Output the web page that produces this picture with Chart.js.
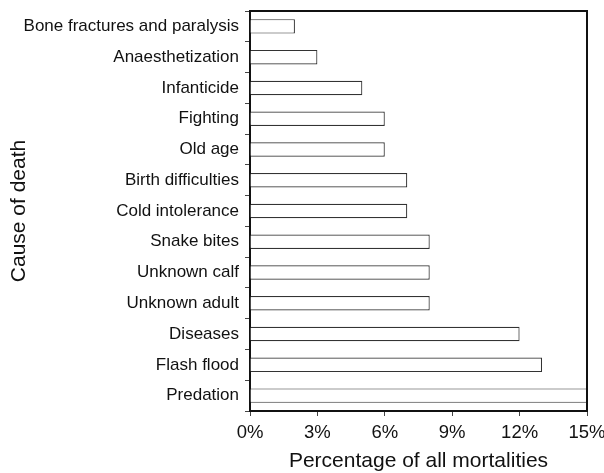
<!DOCTYPE html>
<html><head><meta charset="utf-8">
<script src="https://cdn.jsdelivr.net/npm/chart.js@4/dist/chart.umd.min.js"></script>
<style>html,body{margin:0;padding:0;background:#fff}#wrap{width:604px;height:473px}</style>
</head><body><div id="wrap"><canvas id="c" width="604" height="473"></canvas></div>
<script>
const categories = ["Bone fractures and paralysis","Anaesthetization","Infanticide","Fighting","Old age","Birth difficulties","Cold intolerance","Snake bites","Unknown calf","Unknown adult","Diseases","Flash flood","Predation"];
const percentages = [2,3,5,6,6,7,7,8,8,8,12,13,17];
const xTicks = [0,3,6,9,12,15];

const FONT = "'Liberation Sans', Arial, sans-serif";
const boxPlugin = {
  id:'box',
  afterDatasetsDraw(chart){
    const {ctx, chartArea:a} = chart;
    ctx.save();
    ctx.strokeStyle = '#111';
    ctx.lineWidth = 2;
    ctx.beginPath();
    ctx.moveTo(a.left, a.top); ctx.lineTo(a.right, a.top); ctx.lineTo(a.right, a.bottom);
    ctx.stroke();
    ctx.restore();
  }
};
new Chart(document.getElementById('c'), {
  type:'bar',
  data:{labels:categories, datasets:[{data:percentages, backgroundColor:'#fff', borderColor:'#333', borderWidth:1.2, categoryPercentage:1, barPercentage:0.47}]},
  plugins:[boxPlugin],
  options:{
    indexAxis:'y', responsive:false, animation:false,
    layout:{padding:{left:7, right:17, top:11, bottom:0}},
    plugins:{legend:{display:false}, tooltip:{enabled:false}},
    scales:{
      x:{min:0, max:15, afterBuildTicks(s){ s.ticks = xTicks.map(v=>({value:v})); },
        afterFit(s){ s.height = 473-411; s.paddingLeft = 0; s.paddingRight = 0; },
        border:{display:true, color:'#111', width:2},
        grid:{display:true, drawOnChartArea:false, tickLength:5, color:'#444'},
        ticks:{color:'#111', font:{family:FONT, size:18.5}, padding:6, maxRotation:0, callback:v=>v+'%'},
        title:{display:true, text:'Percentage of all mortalities', color:'#111', font:{family:FONT, size:21, lineHeight:1.0}, padding:{top:4, bottom:1}}
      },
      y:{
        afterFit(s){ s.width = 250-7; s.paddingTop = 0; s.paddingBottom = 0; },
        border:{display:true, color:'#111', width:2},
        grid:{display:true, drawOnChartArea:false, tickLength:5, color:'#444'},
        ticks:{color:'#111', font:{family:FONT, size:17}, padding:6},
        title:{display:true, text:'Cause of death', color:'#111', font:{family:FONT, size:21}, padding:{top:0,bottom:0}}
      }
    }
  }
});
</script></body></html>
